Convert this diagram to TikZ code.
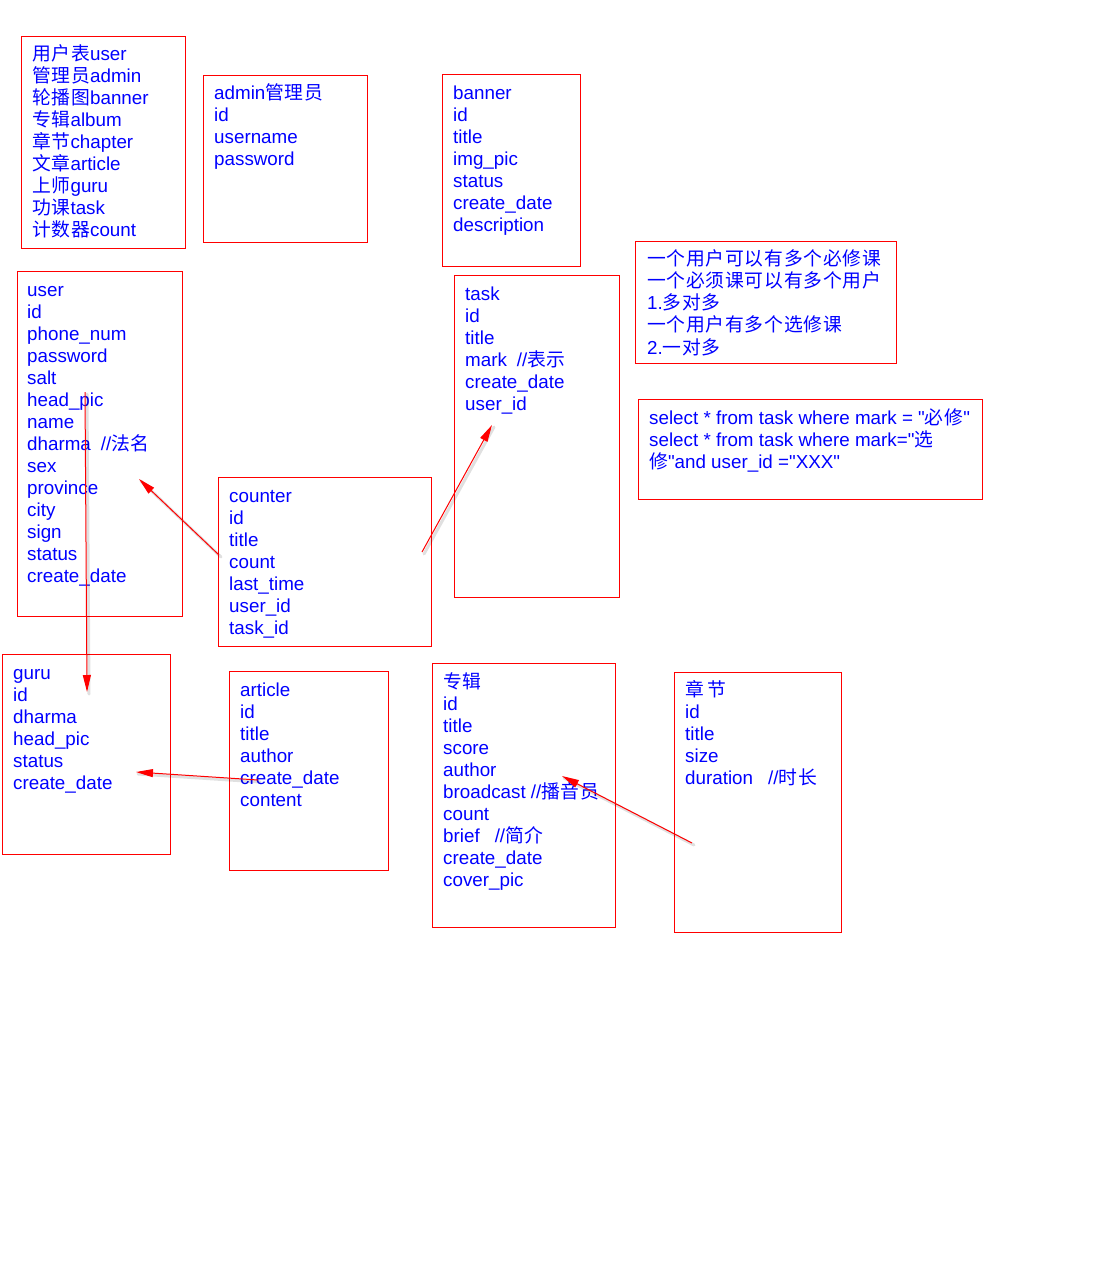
\documentclass[tikz,border=0pt]{standalone}
\usepackage{fontspec}
\setmainfont[Ligatures=TeXOff]{Liberation Sans}
\newfontfamily\cjk[LetterSpace=4]{Noto Sans CJK SC}
\usetikzlibrary{arrows.meta}
\definecolor{boxred}{RGB}{255,0,0}
\definecolor{txtblue}{RGB}{0,0,255}
\newcommand\sst{\rule{0pt}{18pt}}
\newcommand\zh[1]{{\cjk #1}}
\begin{document}
\begin{tikzpicture}[x=1pt,y=-1pt,
  box/.style={draw=boxred, line width=1pt, anchor=north west, inner sep=0pt, outer sep=0pt},
  txt/.style={anchor=north west, inner sep=0pt, align=left, text=txtblue, font=\fontsize{18.8}{22}\selectfont},
  link/.style={draw=boxred, line width=1pt, -{Triangle[length=17pt,width=8pt]}},
  shade/.style={draw=black, opacity=0.12, line width=3pt, line cap=round},
]
\useasboundingbox (0,0) rectangle (1115,1286);
\fill[white] (0,0) rectangle (1115,1286);

% boxes
\node[box, minimum width=164pt, minimum height=212pt] (legend)  at (21,36)  {};
\node[box, minimum width=164pt, minimum height=167pt] (admin)   at (203,75) {};
\node[box, minimum width=138pt, minimum height=192pt] (banner)  at (442,74) {};
\node[box, minimum width=165pt, minimum height=345pt] (user)    at (17,271) {};
\node[box, minimum width=165pt, minimum height=322pt] (task)    at (454,275) {};
\node[box, minimum width=261pt, minimum height=122pt] (rel)     at (635,241) {};
\node[box, minimum width=344pt, minimum height=100pt] (sql)     at (638,399) {};
\node[box, minimum width=213pt, minimum height=169pt] (counter) at (218,477) {};
\node[box, minimum width=168pt, minimum height=200pt] (guru)    at (2,654)  {};
\node[box, minimum width=159pt, minimum height=199pt] (article) at (229,671) {};
\node[box, minimum width=183pt, minimum height=264pt] (album)   at (432,663) {};
\node[box, minimum width=167pt, minimum height=260pt] (chapter) at (674,672) {};

% texts
\node[txt] (legendT) at (32,42) {\sst\zh{用户表}user\\\zh{管理员}admin\\\zh{轮播图}banner\\\zh{专辑}album\\\zh{章节}chapter\\\zh{文章}article\\\zh{上师}guru\\\zh{功课}task\\\zh{计数器}count};
\node[txt] (adminT) at (214,81) {\sst admin\zh{管理员}\\id\\username\\password};
\node[txt] (bannerT) at (453,81) {\sst banner\\id\\title\\img\_pic\\status\\create\_date\\description};
\node[txt] (userT) at (27,278) {\sst user\\id\\phone\_num\\password\\salt\\head\_pic\\name\\dharma\hspace{10pt}//\zh{法名}\\sex\\province\\city\\sign\\status\\create\_date};
\node[txt] (taskT) at (465,282) {\sst task\\id\\title\\mark\hspace{10pt}//\zh{表示}\\create\_date\\user\_id};
\node[txt, font=\fontsize{18.8}{22.2}\selectfont] (relT) at (647,247) {\sst\zh{一个用户可以有多个必修课}\\\zh{一个必须课可以有多个用户}\\1.\zh{多对多}\\\zh{一个用户有多个选修课}\\2.\zh{一对多}};
\node[txt] (sqlT) at (649,406) {\sst select * from task where mark = "\zh{必修}"\\select * from task where mark="\zh{选}\\\zh{修}"and user\_id ="XXX"};
\node[txt] (counterT) at (229,484) {\sst counter\\id\\title\\count\\last\_time\\user\_id\\task\_id};
\node[txt] (guruT) at (13,661) {\sst guru\\id\\dharma\\head\_pic\\status\\create\_date};
\node[txt] (articleT) at (240,678) {\sst article\\id\\title\\author\\create\_date\\content};
\node[txt] (albumT) at (443,670) {\sst\zh{专辑}\\id\\title\\score\\author\\broadcast //\zh{播音员}\\count\\brief\hspace{15pt}//\zh{简介}\\create\_date\\cover\_pic};
\node[txt] (chapterT) at (685,678) {\sst\zh{章\,节}\\id\\title\\size\\duration\hspace{15pt}//\zh{时长}};

% connector end points
\coordinate (ug1) at (85,392);   \coordinate (ug2) at (87,692);
\coordinate (cu1) at (219,555);  \coordinate (cu2) at (139,479);
\coordinate (ct1) at (422,552);  \coordinate (ct2) at (492,425);
\coordinate (ag1) at (258,780);  \coordinate (ag2) at (136,772);
\coordinate (ca1) at (692,843);  \coordinate (ca2) at (562,776);

% soft shadows
\foreach \a/\b in {ug1/ug2, cu1/cu2, ct1/ct2, ag1/ag2, ca1/ca2}
  \draw[shade] ([shift={(2,2)}]\a) -- ([shift={(2,2)}]\b);

% connectors
\draw[link] (ug1) -- (ug2);
\draw[link] (cu1) -- (cu2);
\draw[link] (ct1) -- (ct2);
\draw[link] (ag1) -- (ag2);
\draw[link] (ca1) -- (ca2);
\end{tikzpicture}
\end{document}
